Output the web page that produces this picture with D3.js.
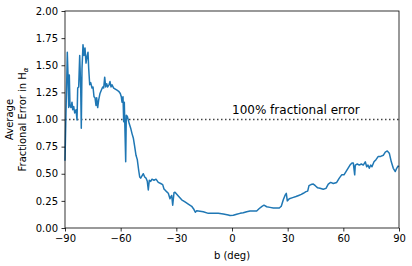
<!DOCTYPE html>
<html>
<head>
<meta charset="utf-8">
<script src="https://cdn.jsdelivr.net/npm/d3@7"></script>
<style>
  body { margin: 0; background: #fff; }
  svg text { font-family: "DejaVu Sans", sans-serif; fill: #000; }
</style>
</head>
<body>
<svg id="chart"></svg>
<script>
const bDeg = [
  -90.0, -89.46, -89.08, -88.76, -88.38, -88.01, -87.68, -87.31, -86.77, -86.23,
  -85.85, -85.31, -84.77, -84.07, -83.53, -83.16, -82.62, -82.08, -81.54, -81.22,
  -80.84, -80.30, -79.76, -79.22, -78.68, -78.14, -77.60, -77.23, -76.69, -76.15,
  -75.45, -74.91, -74.37, -73.83, -73.29, -72.92, -72.38, -71.84, -71.14, -70.44,
  -69.68, -69.14, -68.61, -68.07, -67.53, -66.99, -66.29, -65.75, -65.21, -64.67,
  -63.76, -62.89, -61.98, -61.06, -60.20, -59.66, -59.28, -58.74, -58.37, -58.04,
  -57.67, -57.29, -56.97, -56.43, -55.35, -54.60, -53.89, -53.19, -52.44, -51.74,
  -51.04, -50.28, -49.74, -49.21, -48.51, -47.80, -47.05, -46.35, -45.65, -45.11,
  -44.57, -43.82, -43.12, -42.04, -40.96, -39.72, -38.43, -37.35, -36.65, -35.57,
  -34.33, -33.42, -32.50, -31.96, -31.26, -30.72, -28.94, -27.11, -25.33, -23.55,
  -21.72, -20.48, -19.78, -19.03, -17.25, -15.47, -12.78, -10.08, -7.39, -4.69,
  -2.00, -1.08, 0.70, 2.53, 4.31, 6.09, 7.92, 9.70, 11.48, 13.31,
  14.71, 16.17, 17.24, 18.70, 20.47, 22.25, 24.08, 25.48, 26.56, 27.64,
  28.56, 29.26, 29.80, 30.87, 32.71, 34.48, 35.94, 37.34, 38.42, 39.87,
  40.79, 41.49, 42.57, 43.81, 44.89, 46.18, 47.42, 49.20, 50.65, 51.89,
  53.18, 54.59, 56.42, 57.82, 59.11, 60.35, 61.43, 62.51, 63.59, 64.66,
  65.36, 66.12, 66.44, 67.52, 68.60, 69.68, 70.75, 71.83, 72.59, 73.29,
  73.99, 74.74, 75.44, 76.52, 77.60, 78.84, 80.13, 81.53, 82.61, 83.69,
  84.77, 85.85, 86.92, 88.00, 88.75, 89.46, 90.0
];
const fracErr = [
  0.62, 1.07, 1.35, 1.62, 1.41, 1.11, 1.41, 1.13, 1.11, 1.16,
  1.09, 1.12, 1.06, 1.09, 0.995, 1.29, 1.30, 1.59, 1.29, 0.92,
  1.47, 1.69, 1.59, 1.66, 1.52, 1.58, 1.62, 1.47, 1.32, 1.34,
  1.29, 1.30, 1.21, 1.20, 1.13, 1.20, 1.11, 1.18, 1.24, 1.27,
  1.30, 1.29, 1.39, 1.30, 1.33, 1.30, 1.32, 1.35, 1.30, 1.32,
  1.29, 1.28, 1.27, 1.26, 1.24, 1.21, 1.16, 1.21, 0.98, 1.16,
  0.89, 0.61, 1.04, 1.03, 0.96, 0.92, 0.87, 0.83, 0.75, 0.67,
  0.63, 0.53, 0.47, 0.46, 0.48, 0.50, 0.47, 0.46, 0.43, 0.35,
  0.44, 0.43, 0.45, 0.44, 0.45, 0.42, 0.41, 0.40, 0.36, 0.34,
  0.32, 0.27, 0.30, 0.21, 0.325, 0.33, 0.295, 0.26, 0.24, 0.22,
  0.20, 0.17, 0.145, 0.16, 0.155, 0.15, 0.135, 0.135, 0.135, 0.13,
  0.12, 0.115, 0.117, 0.126, 0.135, 0.14, 0.15, 0.157, 0.157, 0.157,
  0.18, 0.20, 0.21, 0.196, 0.19, 0.184, 0.185, 0.184, 0.20, 0.26,
  0.30, 0.32, 0.25, 0.27, 0.28, 0.29, 0.30, 0.31, 0.32, 0.335,
  0.34, 0.39, 0.40, 0.405, 0.39, 0.37, 0.366, 0.357, 0.365, 0.405,
  0.42, 0.41, 0.42, 0.46, 0.49, 0.49, 0.52, 0.55, 0.58, 0.60,
  0.60, 0.49, 0.58, 0.59, 0.58, 0.59, 0.58, 0.61, 0.565, 0.58,
  0.55, 0.58, 0.565, 0.61, 0.63, 0.66, 0.66, 0.67, 0.70, 0.71,
  0.69, 0.61, 0.55, 0.52, 0.55, 0.57, 0.565
];
const xTicks = [-90, -60, -30, 0, 30, 60, 90];
const yTicks = [0, 0.25, 0.5, 0.75, 1, 1.25, 1.5, 1.75, 2];
const threshold = 1.0;

const w = 412;
const h = 266;
const margin = { top: 11, right: 13, bottom: 38, left: 65 };

const svg = d3.select('#chart').attr('width', w).attr('height', h);

const x = d3.scaleLinear().domain([-90, 90]).range([margin.left, w - margin.right]);
const y = d3.scaleLinear().domain([0, 2]).range([h - margin.bottom, margin.top]);

// threshold line
svg.append('line')
   .attr('x1', x(-90)).attr('x2', x(90))
   .attr('y1', y(threshold)).attr('y2', y(threshold))
   .attr('stroke', '#444')
   .attr('stroke-width', 1.5)
   .attr('stroke-dasharray', '1.5,2.5');

svg.append('text')
   .attr('x', x(0))
   .attr('y', y(threshold) - 6)
   .attr('font-size', '12px')
   .text('100% fractional error');

// curve
const line = d3.line()
               .x((d, i) => x(bDeg[i]))
               .y(d => y(d));

svg.append('path')
   .datum(fracErr)
   .attr('d', line)
   .attr('fill', 'none')
   .attr('stroke', '#1f77b4')
   .attr('stroke-width', 1.5)
   .attr('stroke-linejoin', 'round');

// axes
const xAxis = d3.axisBottom(x).tickValues(xTicks).tickSize(3.5).tickPadding(3.5)
                .tickFormat(d3.format('d'));
const yAxis = d3.axisLeft(y).tickValues(yTicks).tickSize(3.5).tickPadding(3.5)
                .tickFormat(d3.format('.2f'));

const gx = svg.append('g')
              .attr('transform', `translate(0, ${h - margin.bottom})`)
              .call(xAxis);
const gy = svg.append('g')
              .attr('transform', `translate(${margin.left}, 0)`)
              .call(yAxis);

[gx, gy].forEach(g => {
  g.select('.domain').remove();
  g.selectAll('.tick line').attr('stroke', '#000').attr('stroke-width', 0.8);
  g.selectAll('.tick text').attr('font-size', '10px').attr('font-family', '"DejaVu Sans", sans-serif');
});

// frame
svg.append('rect')
   .attr('x', x(-90)).attr('y', y(2))
   .attr('width', x(90) - x(-90))
   .attr('height', y(0) - y(2))
   .attr('fill', 'none')
   .attr('stroke', '#000')
   .attr('stroke-width', 0.8);

// labels
svg.append('text')
   .attr('x', x(0))
   .attr('y', h - 7)
   .attr('text-anchor', 'middle')
   .attr('font-size', '10px')
   .text('b (deg)');

const yl = svg.append('text')
              .attr('transform', `translate(13, ${y(1)}) rotate(-90)`)
              .attr('text-anchor', 'middle')
              .attr('font-size', '10px');
yl.append('tspan').attr('x', 0).attr('dy', 0).text('Average');
const l2 = yl.append('tspan').attr('x', 0).attr('dy', '1.25em');
l2.append('tspan').text('Fractional Error in H');
l2.append('tspan').attr('font-size', '7px').attr('dy', '2').attr('font-style', 'italic').text('α');
</script>
</body>
</html>
